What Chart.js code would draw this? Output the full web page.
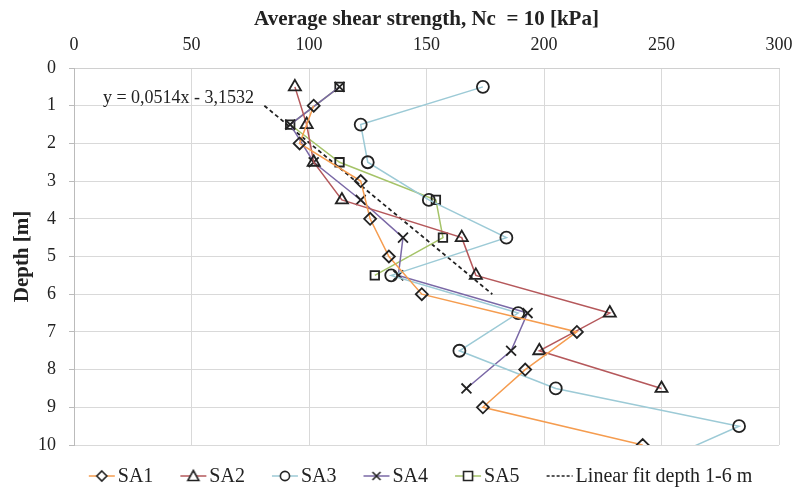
<!DOCTYPE html>
<html>
<head>
<meta charset="utf-8">
<script src="https://cdn.jsdelivr.net/npm/chart.js@4/dist/chart.umd.min.js"></script>
<style>
  html, body { margin: 0; padding: 0; background: #fff; }
  #wrap { width: 796px; height: 492px; }
</style>
</head>
<body>
<div id="wrap"><canvas id="chart" width="796" height="492"></canvas></div>
<script>
// depths [m]
const depthWhole = [1, 2, 3, 4, 5, 6, 7, 8, 9, 10];
const depthHalf = [0.5, 1.5, 2.5, 3.5, 4.5, 5.5, 6.5, 7.5, 8.5, 9.5, 10.5];

// average shear strength [kPa]
const sa1 = [102, 96, 122, 126, 134, 148, 214, 192, 174, 242];
const sa2 = [94, 99, 102, 114, 165, 171, 228, 198, 250];
const sa3 = [174, 122, 125, 151, 184, 135, 189, 164, 205, 283, 247];
const sa4 = [113, 92, 102, 122, 140, 138, 193, 186, 167];
const sa5 = [113, 92, 113, 154, 157, 128];

// linear fit depth 1-6 m
const fitStrength = [81, 178];
const fitDepth = [1, 6];
const fitLabel = "y = 0,0514x - 3,1532";
const fitLabelAt = [12.3, 0.8];

const xTicks = [0, 50, 100, 150, 200, 250, 300];
const yTicks = [0, 1, 2, 3, 4, 5, 6, 7, 8, 9, 10];

const serif = "'Liberation Serif', 'DejaVu Serif', serif";

function pts(xs, ys) {
    return xs.map((v, i) => ({ x: v, y: ys[i] }));
}

// little legend picture: short coloured line with the marker on top
function legendIcon(color, style, dashed) {
    const c = document.createElement("canvas");
    c.width = 28; c.height = 16;
    const g = c.getContext("2d");
    g.strokeStyle = dashed ? "#222" : color;
    g.lineWidth = 1.5;
    if (dashed) g.setLineDash([3, 2]);
    g.beginPath(); g.moveTo(1, 8); g.lineTo(27, 8); g.stroke();
    g.setLineDash([]);
    if (!dashed) {
        g.fillStyle = "#fff";
        g.strokeStyle = "#222";
        g.lineWidth = 1.6;
        g.beginPath();
        if (style === "rectRot") { g.moveTo(14, 3); g.lineTo(19, 8); g.lineTo(14, 13); g.lineTo(9, 8); g.closePath(); }
        if (style === "triangle") { g.moveTo(14, 2.5); g.lineTo(19.5, 12.5); g.lineTo(8.5, 12.5); g.closePath(); }
        if (style === "circle") { g.arc(14, 8, 4.6, 0, Math.PI * 2); }
        if (style === "rect") { g.rect(9.5, 3.5, 9, 9); }
        if (style === "crossRot") { g.moveTo(10, 4); g.lineTo(18, 12); g.moveTo(18, 4); g.lineTo(10, 12); }
        if (style !== "crossRot") g.fill();
        g.stroke();
    }
    return c;
}

function series(label, data, color, style, radius) {
    return {
        label: label,
        data: data,
        borderColor: color,
        borderWidth: 1.5,
        pointStyle: style,
        pointRadius: radius,
        pointBorderColor: "#222",
        pointBackgroundColor: "rgba(255,255,255,0)",
        pointBorderWidth: 1.8,
        icon: legendIcon(color, style, false)
    };
}

const fitText = {
    id: "fitText",
    afterDatasetsDraw(chart) {
        const ctx = chart.ctx;
        const xs = chart.scales.x, ys = chart.scales.y;
        ctx.save();
        ctx.font = "18px " + serif;
        ctx.fillStyle = "#222";
        ctx.textBaseline = "middle";
        ctx.fillText(fitLabel, xs.getPixelForValue(fitLabelAt[0]), ys.getPixelForValue(fitLabelAt[1]));
        ctx.restore();
    }
};

// legend row under the plot, icon + text per dataset
const bottomLegend = {
    id: "bottomLegend",
    afterDraw(chart) {
        const ctx = chart.ctx;
        const sets = chart.data.datasets;
        const gapIcon = 2, gapItem = 26, y = 476;
        ctx.save();
        ctx.font = "20px " + serif;
        ctx.fillStyle = "#222";
        ctx.textBaseline = "middle";
        let total = 0;
        sets.forEach((d, i) => {
            total += d.icon.width + gapIcon + ctx.measureText(d.label).width;
            if (i < sets.length - 1) total += gapItem;
        });
        let x = 420 - total / 2;
        sets.forEach(d => {
            ctx.drawImage(d.icon, x, y - d.icon.height / 2);
            x += d.icon.width + gapIcon;
            ctx.fillText(d.label, x, y + 1);
            x += ctx.measureText(d.label).width + gapItem;
        });
        ctx.restore();
    }
};

const datasets = [
    series("SA1", pts(sa1, depthWhole), "#f59c4f", "rectRot", 6),
    series("SA2", pts(sa2, depthHalf), "#b5585b", "triangle", 7),
    series("SA3", pts(sa3, depthHalf), "#9ccad6", "circle", 6),
    series("SA4", pts(sa4, depthHalf), "#7a68a6", "crossRot", 7),
    series("SA5", pts(sa5, depthHalf), "#a5c368", "rect", 6),
    {
        label: "Linear fit depth 1-6 m",
        data: pts(fitStrength, fitDepth),
        borderColor: "#222",
        borderWidth: 1.8,
        borderDash: [4, 3],
        pointRadius: 0,
        icon: legendIcon("#222", null, true)
    }
];

new Chart(document.getElementById("chart"), {
    type: "line",
    data: { datasets: datasets },
    options: {
        responsive: false,
        animation: false,
        layout: { padding: { left: 0, right: 17, top: 0, bottom: 47 } },
        plugins: {
            tooltip: { enabled: false },
            legend: { display: false }
        },
        scales: {
            x: {
                type: "linear",
                position: "top",
                min: 0,
                max: 300,
                afterBuildTicks(s) { s.ticks = xTicks.map(v => ({ value: v })); },
                afterFit(s) { s.height = 68; s.paddingLeft = 0; s.paddingRight = 0; },
                ticks: { color: "#222", font: { family: serif, size: 18 }, padding: 12 },
                grid: { color: "#d9d9d9", lineWidth: 1, drawTicks: false },
                border: { color: "#d0d0d0" },
                title: {
                    display: true,
                    text: "Average shear strength, Nc  = 10 [kPa]",
                    color: "#222",
                    font: { family: serif, size: 21, weight: "bold" },
                    padding: { top: 7, bottom: 2 }
                }
            },
            y: {
                type: "linear",
                reverse: true,
                min: 0,
                max: 10,
                afterBuildTicks(s) { s.ticks = yTicks.map(v => ({ value: v })); },
                afterFit(s) { s.width = 74; s.paddingTop = 0; s.paddingBottom = 0; },
                ticks: { color: "#222", font: { family: serif, size: 18 }, padding: 13 },
                grid: { color: "#d9d9d9", lineWidth: 1, tickLength: 5, tickColor: "#bbb" },
                border: { color: "#bbb" },
                title: {
                    display: true,
                    text: "Depth [m]",
                    color: "#222",
                    font: { family: serif, size: 21, weight: "bold" },
                    padding: { top: 10, bottom: 0 }
                }
            }
        }
    },
    plugins: [fitText, bottomLegend]
});
</script>
</body>
</html>
